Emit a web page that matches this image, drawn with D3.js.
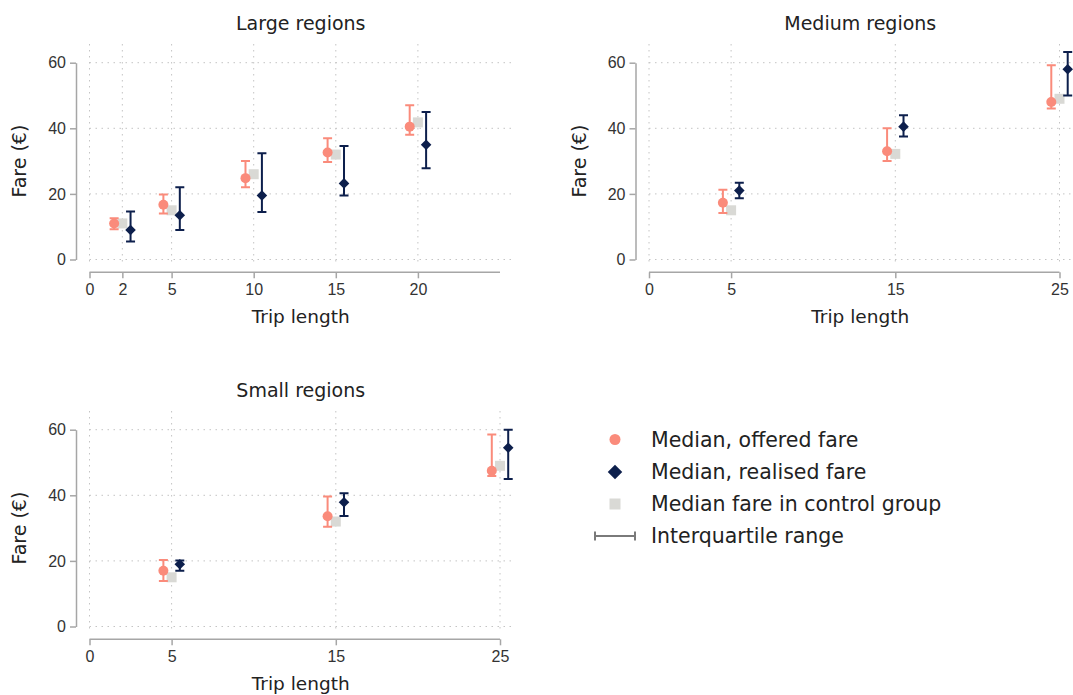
<!DOCTYPE html>
<html>
<head>
<meta charset="utf-8">
<script src="https://cdn.jsdelivr.net/npm/d3@7"></script>
<style>
  body { margin: 0; background: #fff; }
  svg { font-family: "Century Gothic", "DejaVu Sans", sans-serif; }
</style>
</head>
<body>
<svg id="chart" width="1073" height="695"></svg>
<script>
// ---- data ----
const panelTitles = ["Large regions", "Medium regions", "Small regions"];
const yTicks = [0, 20, 40, 60];

// Large regions
const largeTrips = [2, 5, 10, 15, 20];
const largeOffered = [11, 16.7, 24.8, 32.6, 40.5];
const largeOfferedQ1 = [9.2, 14, 22, 29.7, 38];
const largeOfferedQ3 = [12.6, 19.8, 30, 37, 47];
const largeControl = [11, 15, 26, 32, 41.8];
const largeRealised = [9, 13.5, 19.5, 23.2, 35];
const largeRealisedQ1 = [5.5, 9, 14.5, 19.5, 27.8];
const largeRealisedQ3 = [14.6, 22, 32.4, 34.6, 45];
const largeXTicks = [0, 2, 5, 10, 15, 20];

// Medium regions
const mediumTrips = [5, 15, 25];
const mediumOffered = [17.3, 33, 48];
const mediumOfferedQ1 = [14.2, 30, 46];
const mediumOfferedQ3 = [21.3, 40, 59.2];
const mediumControl = [15, 32.2, 49];
const mediumRealised = [21, 40.5, 58];
const mediumRealisedQ1 = [18.7, 37.5, 50];
const mediumRealisedQ3 = [23.4, 44, 63.3];
const mediumXTicks = [0, 5, 15, 25];

// Small regions
const smallTrips = [5, 15, 25];
const smallOffered = [17, 33.6, 47.5];
const smallOfferedQ1 = [13.9, 30.4, 45.9];
const smallOfferedQ3 = [20.3, 39.6, 58.5];
const smallControl = [15, 32, 49];
const smallRealised = [19, 37.9, 54.5];
const smallRealisedQ1 = [17, 33.7, 45];
const smallRealisedQ3 = [20.1, 40.6, 60];
const smallXTicks = [0, 5, 15, 25];

const legendLabels = ["Median, offered fare", "Median, realised fare", "Median fare in control group", "Interquartile range"];

// colours
const offeredColor = "#fa8b7b";
const realisedColor = "#0d1f4c";
const controlColor = "#d9d9d5";
const axisColor = "#a6a6a6";
const gridColor = "#c4c4c4";
const textColor = "#222";

function rows(trips, off, offQ1, offQ3, ctrl, real, realQ1, realQ3) {
  return trips.map((t, i) => ({
    trip: t, offered: off[i], offQ1: offQ1[i], offQ3: offQ3[i],
    control: ctrl[i], realised: real[i], realQ1: realQ1[i], realQ3: realQ3[i]
  }));
}

const panels = [
  { title: panelTitles[0], dx: 0, dy: 0, ticks: largeXTicks,
    data: rows(largeTrips, largeOffered, largeOfferedQ1, largeOfferedQ3, largeControl, largeRealised, largeRealisedQ1, largeRealisedQ3) },
  { title: panelTitles[1], dx: 559.5, dy: 0, ticks: mediumXTicks,
    data: rows(mediumTrips, mediumOffered, mediumOfferedQ1, mediumOfferedQ3, mediumControl, mediumRealised, mediumRealisedQ1, mediumRealisedQ3) },
  { title: panelTitles[2], dx: 0, dy: 367, ticks: smallXTicks,
    data: rows(smallTrips, smallOffered, smallOfferedQ1, smallOfferedQ3, smallControl, smallRealised, smallRealisedQ1, smallRealisedQ3) }
];

const svg = d3.select("#chart");

// shared layout of one panel (local coords)
const x0 = 89.5, x1 = 500, gridRight = 512;
const yTop = 62.7, yBottom = 259.5;
const yAxisX = 76, xAxisY = 272.3;
const gridTop = 44, gridBottom = 266;
const capW = 4.5;

// diamond = square turned 45 degrees
const diamond = d3.symbol().type(d3.symbolSquare);

function drawPanel(p) {
  let g = svg.append("g").attr("transform", `translate(${p.dx},${p.dy})`);

  let x = d3.scaleLinear().domain([0, 25]).range([x0, x1]);
  let y = d3.scaleLinear().domain([0, 60]).range([yBottom, yTop]);

  // dotted grid
  g.append("g").selectAll("line").data(yTicks).join("line")
    .attr("x1", x0).attr("x2", gridRight)
    .attr("y1", d => y(d)).attr("y2", d => y(d))
    .attr("stroke", gridColor).attr("stroke-width", 1)
    .attr("stroke-dasharray", "1.5,4.5");
  g.append("g").selectAll("line").data(p.ticks).join("line")
    .attr("x1", d => x(d)).attr("x2", d => x(d))
    .attr("y1", gridTop).attr("y2", gridBottom)
    .attr("stroke", gridColor).attr("stroke-width", 1)
    .attr("stroke-dasharray", "1.5,4.5");

  // axes
  let yAxis = g.append("g").attr("transform", `translate(${yAxisX},0)`)
    .call(d3.axisLeft(y).tickValues(yTicks).tickSize(6).tickPadding(4).tickSizeOuter(0));
  let xAxis = g.append("g").attr("transform", `translate(0,${xAxisY})`)
    .call(d3.axisBottom(x).tickValues(p.ticks).tickSize(6).tickPadding(5).tickSizeOuter(0));
  // x axis line runs 0..25 even when 25 is not a tick
  xAxis.select(".domain").attr("d", `M${x0},0H${x1}`);
  for (let ax of [yAxis, xAxis]) {
    ax.select(".domain").attr("stroke", axisColor).attr("stroke-width", 1.5);
    ax.selectAll(".tick line").attr("stroke", axisColor).attr("stroke-width", 1.5);
    ax.selectAll(".tick text").attr("fill", "#333").attr("font-size", 16)
      .attr("font-family", null);
  }

  // titles
  let cx = (x0 + gridRight) / 2;
  g.append("text").attr("x", cx).attr("y", 30)
    .attr("text-anchor", "middle").attr("font-size", 19).attr("fill", textColor)
    .text(p.title);
  g.append("text").attr("x", cx).attr("y", 323)
    .attr("text-anchor", "middle").attr("font-size", 18.5).attr("fill", textColor)
    .text("Trip length");
  g.append("text")
    .attr("transform", `translate(${yAxisX - 50},${(yTop + yBottom) / 2}) rotate(-90)`)
    .attr("text-anchor", "middle").attr("font-size", 19).attr("fill", textColor)
    .text("Fare (€)");

  // control group squares
  g.append("g").selectAll("rect").data(p.data).join("rect")
    .attr("x", d => x(d.trip) - 5).attr("y", d => y(d.control) - 5)
    .attr("width", 10).attr("height", 10)
    .attr("fill", controlColor);

  // offered: IQR + circle, shifted half a km left
  let off = g.append("g");
  off.selectAll("path").data(p.data).join("path")
    .attr("d", d => {
      let xx = x(d.trip - 0.5), a = y(d.offQ1), b = y(d.offQ3);
      return `M${xx},${a}V${b}M${xx - capW},${a}H${xx + capW}M${xx - capW},${b}H${xx + capW}`;
    })
    .attr("stroke", offeredColor).attr("stroke-width", 2).attr("fill", "none");
  off.selectAll("circle").data(p.data).join("circle")
    .attr("cx", d => x(d.trip - 0.5)).attr("cy", d => y(d.offered))
    .attr("r", 5).attr("fill", offeredColor);

  // realised: IQR + diamond, shifted half a km right
  let real = g.append("g");
  real.selectAll("path.iqr").data(p.data).join("path").attr("class", "iqr")
    .attr("d", d => {
      let xx = x(d.trip + 0.5), a = y(d.realQ1), b = y(d.realQ3);
      return `M${xx},${a}V${b}M${xx - capW},${a}H${xx + capW}M${xx - capW},${b}H${xx + capW}`;
    })
    .attr("stroke", realisedColor).attr("stroke-width", 2).attr("fill", "none");
  real.selectAll("path.mk").data(p.data).join("path").attr("class", "mk")
    .attr("d", diamond.size(56))
    .attr("transform", d => `translate(${x(d.trip + 0.5)},${y(d.realised)}) rotate(45)`)
    .attr("fill", realisedColor);
}

panels.forEach(drawPanel);

// ---- legend ----
let lg = svg.append("g").attr("transform", "translate(615,0)");
let legendY = [439.5, 472, 504, 536];

lg.append("circle").attr("cx", 0).attr("cy", legendY[0]).attr("r", 5.5).attr("fill", offeredColor);
lg.append("path").attr("d", d3.symbol().type(d3.symbolSquare).size(105)())
  .attr("transform", `translate(0,${legendY[1]}) rotate(45)`).attr("fill", realisedColor);
lg.append("rect").attr("x", -5.5).attr("y", legendY[2] - 5.5).attr("width", 11).attr("height", 11)
  .attr("fill", controlColor);
lg.append("path")
  .attr("d", `M-20,${legendY[3]}H20M-20,${legendY[3] - 4.5}V${legendY[3] + 4.5}M20,${legendY[3] - 4.5}V${legendY[3] + 4.5}`)
  .attr("stroke", "#7a7a7a").attr("stroke-width", 2).attr("fill", "none");

lg.selectAll("text").data(legendLabels).join("text")
  .attr("x", 36).attr("y", (d, i) => legendY[i])
  .attr("dy", "0.35em").attr("font-size", 20.5).attr("fill", textColor)
  .text(d => d);
</script>
</body>
</html>
